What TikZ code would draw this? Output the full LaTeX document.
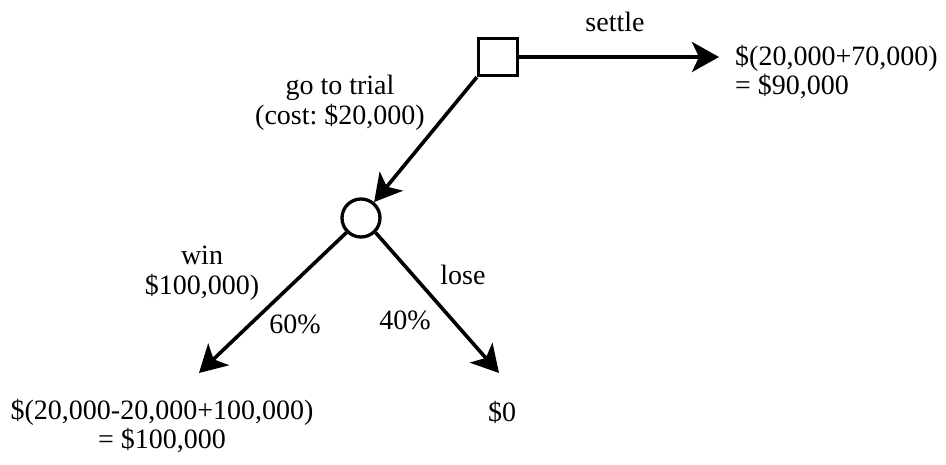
\documentclass[tikz,border=0pt]{standalone}
\usepackage{fontspec}
\setmainfont{Liberation Serif}
\usetikzlibrary{arrows.meta}
\begin{document}
\frenchspacing
\begin{tikzpicture}[x=1pt,y=-1pt,
  every node/.style={font=\fontsize{28}{29.5}\selectfont, inner sep=0pt},
  decision/.style={draw, line width=3.3pt, rectangle, minimum width=39pt, minimum height=37pt},
  chance/.style={draw, line width=3.3pt, circle, minimum size=38pt},
  conn/.style={line width=3.6pt, -{Stealth[length=27pt,width=30pt,inset=7pt]}},
  lbl/.style={align=center}]
\useasboundingbox (0,0) rectangle (946,465);
\node[decision] (sq) at (498,57) {};
\node[chance] (ci) at (361,218) {};
\coordinate (settleEnd) at (719,57);
\coordinate (winEnd) at (199,373);
\coordinate (loseEnd) at (499,373);
\draw[conn] (sq.east) -- (settleEnd);
\draw[conn] (sq.south west) -- (ci);
\draw[conn] (ci.225) -- (winEnd);
\draw[conn] (ci.-45) -- (loseEnd);
\node (settle) at (615,22) {settle};
\node[anchor=west, align=left] (settleVal) at (735,72) {\$(20,000+70,000)\\= \$90,000};
\node[lbl] (trial) at (340,103) {go to trial\\(cost: \$20,000)};
\node[lbl] (win) at (202,273) {win\\\$100,000)};
\node (lose) at (463,275) {lose};
\node (p60) at (295,324) {60\%};
\node (p40) at (405,320) {40\%};
\node[lbl] (winVal) at (162,426) {\$(20,000-20,000+100,000)\\= \$100,000};
\node (loseVal) at (502,412) {\$0};
\end{tikzpicture}
\end{document}
